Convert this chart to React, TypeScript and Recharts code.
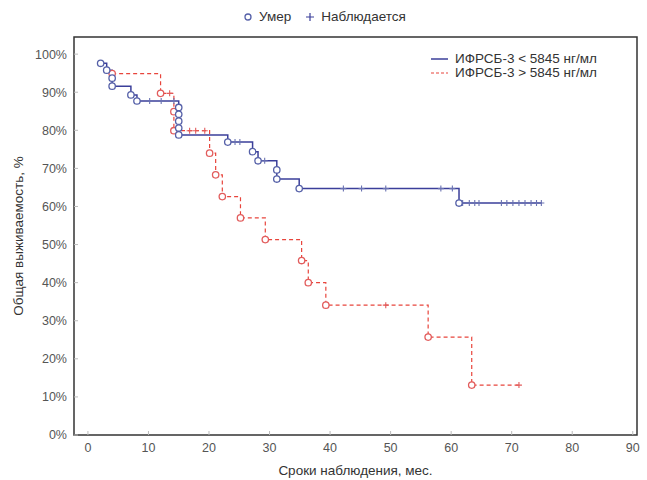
import { ComposedChart, Line, Scatter, XAxis, YAxis, Legend, ReferenceArea } from 'recharts';

const FONT = "'Liberation Sans', Arial, sans-serif";
const BLUE = '#3b3f9a';
const BLUE_MARK = '#5560a8';
const BLUE_CENS = '#6a72b2';
const RED = '#e8453c';
const RED_MARK = '#e25c5c';

const xTicks = [0, 10, 20, 30, 40, 50, 60, 70, 80, 90];
const yTicks = [0, 10, 20, 30, 40, 50, 60, 70, 80, 90, 100];
const X_DOMAIN = [-2.3, 90.7];
const Y_DOMAIN = [0, 104.5];

// ИФРСБ-3 < 5845 нг/мл
const lowTimes = [2.1, 3.1, 4.0, 7.1, 8.1, 15.0, 23.1, 27.2, 28.1, 31.2, 34.9, 61.3, 75.0];
const lowSurv = [97.6, 95.8, 91.6, 89.3, 87.7, 78.8, 76.9, 74.4, 72.0, 67.2, 64.7, 60.9, 60.9];
const lowDeathT = [2.1, 3.1, 4.0, 4.0, 7.1, 8.1, 15, 15, 15, 15, 15, 23.1, 27.2, 28.1, 31.2, 31.2, 34.9, 61.3];
const lowDeathS = [97.6, 95.8, 93.7, 91.6, 89.3, 87.7, 86.0, 84.2, 82.4, 80.6, 78.8, 76.9, 74.4, 72.0, 69.6, 67.2, 64.7, 60.9];
const lowCensT = [10.2, 12.1, 14.2, 24.3, 25.1, 29.2, 42.2, 45.2, 49.2, 58.3, 60.2, 61.9, 63.0, 63.9, 64.6, 68.3, 69.2, 70.2, 71.2, 72.2, 73.2, 74.1, 74.9];
const lowCensS = [87.7, 87.7, 87.7, 76.9, 76.9, 72.0, 64.7, 64.7, 64.7, 64.7, 64.7, 60.9, 60.9, 60.9, 60.9, 60.9, 60.9, 60.9, 60.9, 60.9, 60.9, 60.9, 60.9];

// ИФРСБ-3 > 5845 нг/мл
const highTimes = [4.0, 12.0, 14.2, 20.1, 21.1, 22.2, 25.2, 29.3, 35.3, 36.4, 39.3, 56.2, 63.4, 71.2];
const highSurv = [94.9, 89.7, 79.9, 74.0, 68.3, 62.6, 57.0, 51.3, 45.8, 40.0, 34.1, 25.7, 13.1, 13.1];
const highDeathT = [4.0, 12.0, 14.2, 14.2, 20.1, 21.1, 22.2, 25.2, 29.3, 35.3, 36.4, 39.3, 56.2, 63.4];
const highDeathS = [94.9, 89.7, 84.9, 79.9, 74.0, 68.3, 62.6, 57.0, 51.3, 45.8, 40.0, 34.1, 25.7, 13.1];
const highCensT = [13.5, 16.8, 17.8, 19.3, 49.2, 71.2];
const highCensS = [89.7, 79.9, 79.9, 79.9, 34.1, 13.1];

const toPoints = (ts: number[], ss: number[]) => ts.map((t, i) => ({ t, s: ss[i] }));

const lowLine = toPoints(lowTimes, lowSurv);
const highLine = toPoints(highTimes, highSurv);
const lowDeaths = toPoints(lowDeathT, lowDeathS);
const highDeaths = toPoints(highDeathT, highDeathS);
const lowCens = toPoints(lowCensT, lowCensS);
const highCens = toPoints(highCensT, highCensS);

const circleShape = (color: string) => (p: any) => (
  <circle cx={p.cx} cy={p.cy} r={3.2} fill="#fff" stroke={color} strokeWidth={1.3} />
);

const crossShape = (color: string) => (p: any) => (
  <path
    d={`M${p.cx - 3},${p.cy}H${p.cx + 3}M${p.cx},${p.cy - 3}V${p.cy + 3}`}
    stroke={color}
    strokeWidth={1.1}
    fill="none"
  />
);

function Legends() {
  const text = { fontFamily: FONT, fontSize: 13.5, color: '#333' };
  return (
    <div style={{ position: 'relative', width: 647, height: 480 }}>
      <div style={{ ...text, position: 'absolute', left: 242, top: 9, display: 'flex', alignItems: 'center' }}>
        <svg width={12} height={12}>
          <circle cx={6} cy={6} r={3} fill="#fff" stroke={BLUE_MARK} strokeWidth={1.3} />
        </svg>
        <span style={{ marginLeft: 5 }}>Умер</span>
        <svg width={14} height={12} style={{ marginLeft: 12 }}>
          <path d="M3,6H11M7,2V10" stroke={BLUE} strokeWidth={1.2} />
        </svg>
        <span style={{ marginLeft: 4 }}>Наблюдается</span>
      </div>
      <div style={{ ...text, position: 'absolute', left: 430, top: 52, lineHeight: '14px' }}>
        <div style={{ display: 'flex', alignItems: 'center' }}>
          <svg width={20} height={10}>
            <line x1={1} y1={5} x2={18} y2={5} stroke={BLUE} strokeWidth={1.5} />
          </svg>
          <span style={{ marginLeft: 5 }}>ИФРСБ-3 &lt; 5845 нг/мл</span>
        </div>
        <div style={{ display: 'flex', alignItems: 'center' }}>
          <svg width={20} height={10}>
            <line x1={1} y1={5} x2={18} y2={5} stroke={RED} strokeWidth={1.2} strokeDasharray="3 2" />
          </svg>
          <span style={{ marginLeft: 5 }}>ИФРСБ-3 &gt; 5845 нг/мл</span>
        </div>
      </div>
    </div>
  );
}

export default function App() {
  const tickStyle = { fontSize: 12.5, fill: '#555', fontFamily: FONT };
  const titleStyle = { fontSize: 13.5, fill: '#333', fontFamily: FONT };
  return (
    <div style={{ position: 'absolute', left: 0, top: 0, background: '#fff' }}>
      <ComposedChart width={647} height={480} margin={{ top: 37, right: 10, left: 0, bottom: 0 }}>
        <XAxis
          dataKey="t"
          type="number"
          domain={X_DOMAIN}
          ticks={xTicks}
          allowDataOverflow
          height={45}
          tick={tickStyle}
          tickSize={-4}
          tickMargin={12}
          tickLine={{ stroke: '#bbb' }}
          axisLine={false}
          label={{ value: 'Сроки наблюдения, мес.', position: 'insideBottom', offset: 5, style: titleStyle }}
        />
        <YAxis
          type="number"
          domain={Y_DOMAIN}
          ticks={yTicks}
          allowDataOverflow
          width={74}
          tick={tickStyle}
          tickFormatter={(v: number) => `${v}%`}
          tickSize={-4}
          tickMargin={11}
          tickLine={{ stroke: '#bbb' }}
          axisLine={false}
          label={{ value: 'Общая выживаемость, %', angle: -90, position: 'insideLeft', offset: 18, style: { ...titleStyle, textAnchor: 'middle' } }}
        />
        <ReferenceArea
          x1={X_DOMAIN[0]}
          x2={X_DOMAIN[1]}
          y1={Y_DOMAIN[0]}
          y2={Y_DOMAIN[1]}
          fill="none"
          stroke="#333"
          strokeWidth={1.5}
          ifOverflow="visible"
        />
        <Legend
          verticalAlign="middle"
          layout="horizontal"
          align="center"
          wrapperStyle={{ top: 0, left: 0, width: 647, height: 480, pointerEvents: 'none' }}
          content={() => <Legends />}
        />
        <Line data={highLine} dataKey="s" type="stepAfter" stroke={RED} strokeWidth={1.2} strokeDasharray="4 3" dot={false} isAnimationActive={false} />
        <Line data={lowLine} dataKey="s" type="stepAfter" stroke={BLUE} strokeWidth={1.5} dot={false} isAnimationActive={false} />
        <Scatter data={highCens} dataKey="s" shape={crossShape(RED_MARK)} isAnimationActive={false} />
        <Scatter data={lowCens} dataKey="s" shape={crossShape(BLUE_CENS)} isAnimationActive={false} />
        <Scatter data={highDeaths} dataKey="s" shape={circleShape(RED_MARK)} isAnimationActive={false} />
        <Scatter data={lowDeaths} dataKey="s" shape={circleShape(BLUE_MARK)} isAnimationActive={false} />
      </ComposedChart>
    </div>
  );
}
